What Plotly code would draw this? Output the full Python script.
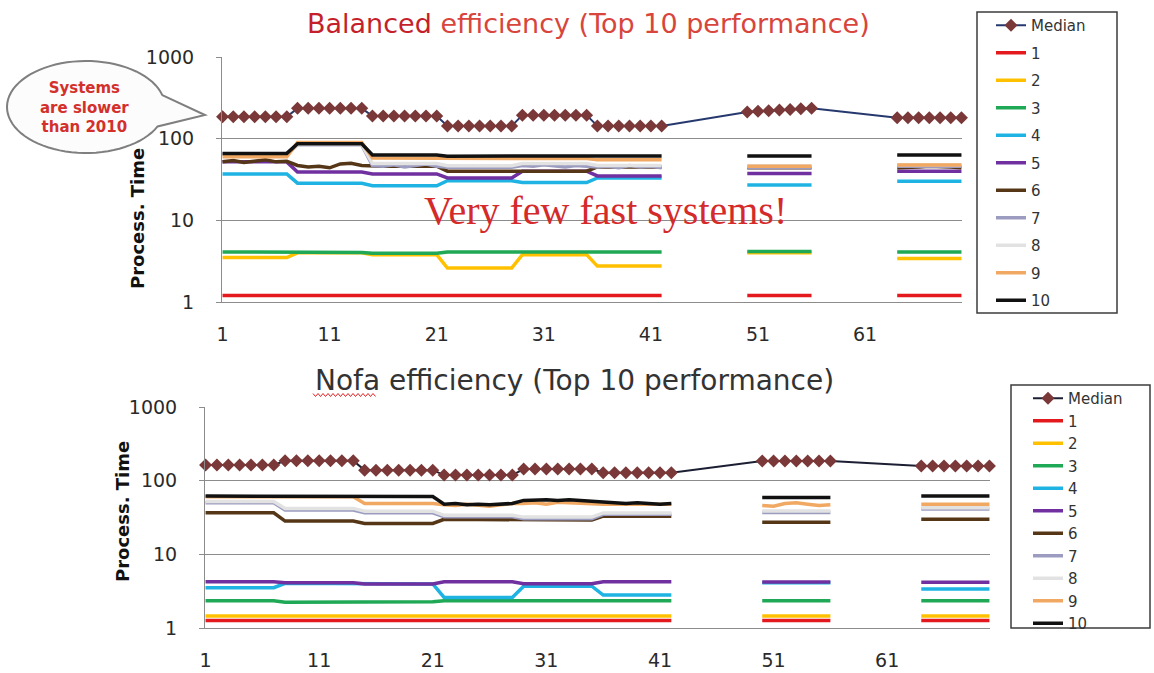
import math
import plotly.graph_objects as go

W, H = 1154, 673

# ---------------------------------------------------------------- data
RUNS = list(range(1, 71))
SEGMENT_FIRST_RUN = [1, 8, 15, 22, 29, 36, 50, 64]
SEGMENT_LEN = 7

SERIES_NAMES = ["1", "2", "3", "4", "5", "6", "7", "8", "9", "10"]
SERIES_COLORS = ["#E3191E", "#FFC000", "#1FA855", "#1EB3E2", "#7030A0",
                 "#553617", "#9C9CC0", "#E2E2E2", "#F0A862", "#111111"]

Y_TICKS = [1, 10, 100, 1000]
Y_TICK_TEXT = ["1", "10", "100", "1000"]

# Balanced efficiency: one level per segment (or 7 per-run values)
BAL_MEDIAN = [185, 235, 189, 143, 194, 143,
              [212, 216, 220, 224, 228, 232, 236], 180]
BAL_SERIES = [
    [1.2, 1.2, 1.2, 1.2, 1.2, 1.2, 1.2, 1.2],
    [3.5, 4.0, 3.8, 2.6, 3.8, 2.75, 4.0, 3.4],
    [4.1, 4.05, 3.95, 4.1, 4.1, 4.1, 4.15, 4.1],
    [37, 28.5, 26.5, 30.5, 29, 33, 27, 30],
    [52, 39, 37, 33, 40, 35, 37.5, 40],
    [[52, 54, 51, 53, 55, 52, 53], [47, 45, 46, 44, 49, 50, 47], 46, 40, 40, 45, 44,
     [44, 44, 45, 46, 46, 45, 44]],
    [64.5, 84, [47, 46, 48, 45, 47, 49, 46], 44.6, [47, 46, 48, 47, 45, 47, 46],
     [45, 46, 44, 47, 45, 46, 44], 44.5, 46],
    [65, 85, 49.5, 46.5, 49.5, 47, 46.5, 48],
    [60, 89.5, 58, 57, 57, 55, 46, 47.5],
    [66, 86.5, 63, 61, 61.5, 61.5, 61.5, 63],
]

# Nofa efficiency
NOFA_MEDIAN = [163, 186, 139, 119, 144, 128, 185, 158]
NOFA_SERIES = [
    [1.26, 1.26, 1.26, 1.26, 1.26, 1.26, 1.26, 1.26],
    [1.45, 1.45, 1.45, 1.45, 1.45, 1.45, 1.45, 1.45],
    [2.35, 2.23, 2.28, 2.35, 2.35, 2.35, 2.35, 2.35],
    [3.52, 4.05, 3.96, 2.6, 3.7, 2.8, 4.12, 3.38],
    [4.25, 4.12, 3.96, 4.25, 4.0, 4.25, 4.2, 4.17],
    [36.7, 28.3, 26.3, 29.9, 29.2, 33, 27.2, 29.9],
    [50, 40, 36.7, 32.3, 30.5, 35, 37, 41.2],
    [52, 42, 38.5, 33.8, 32, 36.5, 38.8, 43],
    [60.5, 60.5, 49, [47, 46, 48, 47, 45, 47, 49], [49, 50, 48, 51, 50, 49, 48], 48,
     [46, 45, 49, 50, 48, 46, 47], 47.7],
    [61.8, 61.8, 61, [48, 49, 47, 48, 47, 48, 49], [54, 55, 55, 54, 55, 54, 53],
     [51, 50, 49, 50, 49, 48, 49], 59.3, 61.8],
]


def expand(levels):
    """Per-run values (None between segments) from segment levels."""
    y = [None] * len(RUNS)
    for first, lv in zip(SEGMENT_FIRST_RUN, levels):
        vals = lv if isinstance(lv, list) else [lv] * SEGMENT_LEN
        for k, v in enumerate(vals):
            y[first - 1 + k] = v
    return y


def px(x):
    return x / W


def py(y):
    return 1 - y / H


fig = go.Figure()

panels = [
    dict(median=BAL_MEDIAN, series=BAL_SERIES, xa="x", ya="y", legend="legend",
         tag="bal", median_line="#26396E"),
    dict(median=NOFA_MEDIAN, series=NOFA_SERIES, xa="x2", ya="y2", legend="legend2",
         tag="nofa", median_line="#1C1F33"),
]

for p in panels:
    med = expand(p["median"])
    mx = [r for r, v in zip(RUNS, med) if v is not None]
    my = [v for v in med if v is not None]
    fig.add_trace(go.Scatter(
        x=mx, y=my, name="Median", mode="lines+markers",
        line=dict(color=p["median_line"], width=2),
        marker=dict(symbol="diamond", size=10, color="#7A3838"),
        xaxis=p["xa"], yaxis=p["ya"], legend=p["legend"],
        legendgroup=p["tag"] + "-median", cliponaxis=False,
    ))
    for name, color, levels in zip(SERIES_NAMES, SERIES_COLORS, p["series"]):
        fig.add_trace(go.Scatter(
            x=RUNS, y=expand(levels), name=name, mode="lines",
            line=dict(color=color, width=3.5), connectgaps=False,
            xaxis=p["xa"], yaxis=p["ya"], legend=p["legend"],
            legendgroup=p["tag"] + "-" + name,
        ))

TICK_FONT = dict(family="DejaVu Sans", size=19, color="#2A2A2A")
AXIS_GRAY = "#8C8C8C"

x_common = dict(range=[0.95, 70.05], tick0=1, dtick=10, showgrid=False,
                zeroline=False, showline=True, linecolor=AXIS_GRAY, linewidth=1,
                ticks="", ticklabelstandoff=15, tickfont=TICK_FONT, automargin=False)
y_common = dict(type="log", range=[0, 3], tickvals=Y_TICKS, ticktext=Y_TICK_TEXT,
                showgrid=True, gridcolor=AXIS_GRAY, gridwidth=1, showline=True,
                linecolor=AXIS_GRAY, linewidth=1, ticks="outside", ticklen=5,
                tickcolor=AXIS_GRAY, ticklabelstandoff=18, tickfont=TICK_FONT,
                zeroline=False, automargin=False)

fig.update_layout(
    xaxis=dict(domain=[px(222), px(962)], anchor="y", **x_common),
    yaxis=dict(domain=[py(302), py(57)], anchor="x", **y_common),
    xaxis2=dict(domain=[px(205), px(990)], anchor="y2", **x_common),
    yaxis2=dict(domain=[py(628), py(407)], anchor="x2", **y_common),
)

legend_common = dict(xanchor="left", yanchor="top", bgcolor="rgba(0,0,0,0)",
                     borderwidth=0, itemwidth=30,
                     font=dict(family="DejaVu Sans", size=15, color="#333333"))
fig.update_layout(
    legend=dict(x=px(991), y=py(9), tracegroupgap=5, **legend_common),
    legend2=dict(x=px(1028), y=py(382), tracegroupgap=0, **legend_common),
)

shapes = [
    dict(type="rect", xref="paper", yref="paper", x0=px(977), x1=px(1117),
         y0=py(313), y1=py(12), line=dict(color="#3C3C3C", width=1.5)),
    dict(type="rect", xref="paper", yref="paper", x0=px(1011), x1=px(1150),
         y0=py(628), y1=py(385), line=dict(color="#3C3C3C", width=1.5)),
]

# speech bubble next to the top panel
cx, cy, rx, ry = 86, 107, 79, 46
a_up, a_low = math.radians(-15), math.radians(25)
pts = [(cx + rx * math.cos(a_up), cy + ry * math.sin(a_up)), (205, 115)]
n = 72
for i in range(n + 1):
    t = a_low + (2 * math.pi - (a_low - a_up)) * i / n
    pts.append((cx + rx * math.cos(t), cy + ry * math.sin(t)))
bubble = "M " + " L ".join(f"{px(x):.5f},{py(y):.5f}" for x, y in pts) + " Z"
shapes.append(dict(type="path", xref="paper", yref="paper", path=bubble,
                   fillcolor="#FCFCFC", line=dict(color="#7F7F7F", width=2),
                   layer="below"))

# spell-check squiggle under "Nofa"
sq = []
x = 313.0
k = 0
while x <= 377:
    sq.append((x, 395 + (1.5 if k % 2 else -1.5)))
    x += 2.5
    k += 1
shapes.append(dict(type="path", xref="paper", yref="paper",
                   path="M " + " L ".join(f"{px(a):.5f},{py(b):.5f}" for a, b in sq),
                   line=dict(color="#E02020", width=1)))

fig.update_layout(shapes=shapes)

annotations = [
    dict(text="<span style='color:#C41F2B'>Balanced</span> efficiency (Top 10 performance)",
         x=px(305), y=py(24), xanchor="left", yanchor="middle",
         font=dict(family="DejaVu Sans", size=27, color="#D8453C")),
    dict(text="Nofa efficiency (Top 10 performance)",
         x=px(313), y=py(380), xanchor="left", yanchor="middle",
         font=dict(family="DejaVu Sans", size=28, color="#333333")),
    dict(text="Very few fast systems!", x=px(605), y=py(210),
         xanchor="center", yanchor="middle",
         font=dict(family="Liberation Serif", size=40, color="#D42A2A")),
    dict(text="Systems<br>are slower<br>than 2010", x=px(84), y=py(108),
         xanchor="center", yanchor="middle",
         font=dict(family="DejaVu Sans", size=15, color="#D3302C", weight=700)),
    dict(text="Process. Time", x=px(138), y=py(219), textangle=-90,
         xanchor="center", yanchor="middle",
         font=dict(family="DejaVu Sans", size=18, color="#111111", weight=700)),
    dict(text="Process. Time", x=px(122), y=py(512), textangle=-90,
         xanchor="center", yanchor="middle",
         font=dict(family="DejaVu Sans", size=18, color="#111111", weight=700)),
]
for a in annotations:
    a.update(xref="paper", yref="paper", showarrow=False)
fig.update_layout(annotations=annotations)

fig.update_layout(
    width=W, height=H, margin=dict(l=0, r=0, t=0, b=0),
    paper_bgcolor="white", plot_bgcolor="white", showlegend=True,
)

fig.write_html("out.html")
